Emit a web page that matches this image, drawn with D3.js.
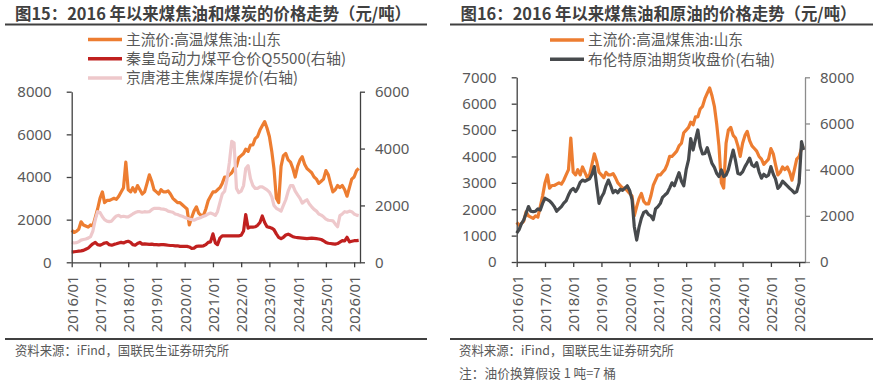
<!DOCTYPE html>
<html><head><meta charset="utf-8">
<script src="https://cdn.jsdelivr.net/npm/d3@7"></script>
<style>
html,body{margin:0;padding:0;background:#fff;}
svg{display:block;}
</style></head>
<body>
<svg id="c" width="873" height="381"></svg>
<script>
// ---- data (monthly, starting 2016-01) ----
const startYear = 2016, startMonth = 0;
const xTickLabels = ["2016/01","2017/01","2018/01","2019/01","2020/01","2021/01","2022/01","2023/01","2024/01","2025/01","2026/01"];
const leftTicksChart15 = [0,2000,4000,6000,8000];
const rightTicksChart15 = [0,2000,4000,6000];
const leftTicksChart16 = [0,1000,2000,3000,4000,5000,6000,7000];
const rightTicksChart16 = [0,2000,4000,6000,8000];

const seriesNames15 = ["主流价:高温煤焦油:山东","秦皇岛动力煤平仓价Q5500(右轴)","京唐港主焦煤库提价(右轴)"];
const seriesNames16 = ["主流价:高温煤焦油:山东","布伦特原油期货收盘价(右轴)"];

const cokeTar = [
 1500,1400,1450,1550,1900,1750,1700,1650,1750,1700,2100,2500,
 3000,3300,2800,2900,2900,2950,3000,2950,3100,3300,3500,4700,
 3400,3300,3500,3300,3600,3400,3200,3300,3700,4100,3800,3400,
 3300,3200,3400,3300,3300,3350,3200,3000,2900,2800,2800,2700,
 2600,2500,1750,2100,2400,2600,2300,2200,2200,2500,2900,3100,
 3300,3300,3400,3500,3700,4000,4000,4100,4200,4400,4500,4900,
 5000,5100,5300,5200,5500,5500,5800,5900,6200,6400,6600,6300,
 5900,5200,4400,3000,2800,4500,5000,5100,4800,4700,4400,4000,
 4500,4800,4950,4600,4400,4300,4200,4000,3900,3700,3800,3900,
 4300,4100,3700,3300,3400,3600,3500,3600,3400,3100,3500,3900,
 4000,4300,4400];

const thermalCoal = [
 370,370,380,390,400,420,460,500,580,650,700,620,
 600,640,680,690,620,600,630,650,680,700,680,720,
 740,700,620,600,660,700,640,650,640,630,640,620,
 620,610,620,620,610,600,590,590,580,580,560,560,
 560,560,540,490,500,560,570,570,580,620,700,720,
 1000,680,620,850,930,930,930,930,930,930,930,930,
 950,1100,1680,1200,1240,1240,1250,1300,1400,1630,1400,1250,
 1230,1200,1150,1000,880,830,880,960,990,950,900,880,
 870,860,850,840,830,840,850,840,830,820,800,760,
 700,670,660,650,640,660,710,760,750,880,720,740,
 760,760,770];

const cokingCoal = [
 700,680,690,720,780,800,820,850,900,1100,1500,1780,
 1750,1600,1500,1450,1430,1450,1550,1630,1650,1600,1620,1600,
 1600,1650,1700,1750,1780,1780,1760,1780,1770,1780,1850,1900,
 1900,1900,1880,1870,1850,1800,1780,1760,1700,1680,1640,1620,
 1580,1550,1520,1500,1480,1520,1550,1580,1620,1650,1700,1730,
 1700,1650,1780,2100,2400,2500,2900,3500,4250,4200,2600,2450,
 2500,2700,3300,3400,2950,2700,2600,2600,2650,2650,2600,2550,
 2470,2300,2000,1900,1850,1800,2000,2200,2500,2700,2700,2500,
 2370,2250,2080,2150,2200,2050,1950,1860,1800,1700,1660,1600,
 1520,1480,1470,1460,1350,1250,1640,1700,1780,1760,1800,1780,
 1700,1660,1640];

const brent = [
 1250,1400,1650,1820,2100,2400,2200,2180,2200,2300,2250,2540,
 2760,2700,2650,2540,2400,2200,2300,2400,2550,2650,2900,3100,
 3190,3050,3200,3450,3550,3500,3550,3600,3800,4130,3300,2540,
 2800,2990,3300,3550,3300,3000,3100,3000,3150,3100,3200,3300,
 3100,2700,1530,950,1500,1900,2150,2200,2050,2000,1830,2300,
 2400,2540,2800,2900,2990,3200,3430,3300,3600,3870,3500,3300,
 4000,4430,5350,4850,5300,5720,5000,4680,4700,4950,4600,4270,
 4100,3830,3700,3990,3700,3760,4000,4430,4850,4400,3830,3800,
 3900,4130,4300,4500,4200,4130,4300,3900,3630,3800,3700,3760,
 4130,3800,3600,3190,3300,3500,3400,3300,3190,3100,2990,3050,
 3430,5210,4850];

// ---- styling ----
const C_ORANGE = "#ED7D31", C_RED = "#C0201F", C_PINK = "#EEC8CB", C_GRAY = "#474A4D";
const TXT = "#595959", DARK = "#404040";
const CJK = "'Noto Sans CJK SC','Noto Sans',sans-serif";
const NUM = "'Noto Sans','Open Sans',sans-serif";

const svg = d3.select("#c");
const dateAt = i => new Date(startYear, startMonth + i, 1);
const xDomain = [new Date(2016,0,1), new Date(2026,2,18)];
const tickDates = xTickLabels.map(s => { const [y,m] = s.split("/"); return new Date(+y, +m-1, 1); });

function header(x0, x1, tx, title) {
  svg.append("text").attr("x", tx).attr("y", 19.5).text(title)
    .attr("textLength", 396).attr("lengthAdjust", "spacingAndGlyphs")
    .attr("font-family", CJK).attr("font-weight", "bold").attr("font-size", 16.5).attr("fill", DARK);
  svg.append("line").attr("x1", x0).attr("x2", x1).attr("y1", 24.5).attr("y2", 24.5)
    .attr("stroke", DARK).attr("stroke-width", 2);
  svg.append("line").attr("x1", x0).attr("x2", x1).attr("y1", 339).attr("y2", 339)
    .attr("stroke", DARK).attr("stroke-width", 2);
}

function legend(lx, ty, items) {
  items.forEach((it, i) => {
    const y = ty + i * 19.3;
    svg.append("line").attr("x1", lx).attr("x2", lx + 34).attr("y1", y).attr("y2", y)
      .attr("stroke", it.color).attr("stroke-width", 3.5);
    svg.append("text").attr("x", lx + 38).attr("y", y + 5.2).text(it.name)
      .attr("textLength", it.w).attr("lengthAdjust", "spacingAndGlyphs")
      .attr("font-family", CJK).attr("font-size", 15).attr("fill", TXT);
  });
}

function footer(x, y, str, w) {
  svg.append("text").attr("x", x).attr("y", y).text(str)
    .attr("textLength", w).attr("lengthAdjust", "spacingAndGlyphs")
    .attr("font-family", CJK).attr("font-size", 13).attr("fill", TXT);
}

function chart(o) {
  const x = d3.scaleTime().domain(xDomain).range([o.x0, o.x1]);
  const yL = d3.scaleLinear().domain([0, o.lMax]).range([o.y0, o.y1]);
  const yR = d3.scaleLinear().domain([0, o.rMax]).range([o.y0, o.y1]);
  const fmt = d3.format("d");

  const styleAxis = (g, color) => {
    g.selectAll("path").attr("stroke", color).attr("stroke-width", 1.3);
    g.selectAll("line").attr("stroke", color).attr("stroke-width", 1.3);
    g.selectAll("text").attr("fill", TXT).attr("font-family", NUM).attr("font-size", 15);
  };

  // lines
  o.series.forEach(s => {
    const yS = s.right ? yR : yL;
    svg.append("path").datum(s.values)
      .attr("fill", "none").attr("stroke", s.color).attr("stroke-width", 3.2)
      .attr("stroke-linejoin", "round")
      .attr("d", d3.line().x((d, i) => x(dateAt(i))).y(d => yS(d)));
  });

  const gl = svg.append("g").attr("transform", `translate(${o.x0},0)`)
    .call(d3.axisLeft(yL).tickValues(o.lTicks).tickFormat(fmt).tickSize(5).tickSizeOuter(0).tickPadding(15));
  styleAxis(gl, DARK);
  const gr = svg.append("g").attr("transform", `translate(${o.x1},0)`)
    .call(d3.axisRight(yR).tickValues(o.rTicks).tickFormat(fmt).tickSize(5).tickSizeOuter(0).tickPadding(10));
  styleAxis(gr, o.rAxisColor);
  const gx = svg.append("g").attr("transform", `translate(0,${o.y0})`)
    .call(d3.axisBottom(x).tickValues(tickDates).tickSize(5).tickSizeOuter(0)
      .tickFormat((d, i) => xTickLabels[i]));
  styleAxis(gx, DARK);
  gx.selectAll("text").attr("transform", "rotate(-90)").attr("x", -13).attr("y", 0)
    .attr("dy", "0.36em").style("text-anchor", "end");
}

// ---- chart 15 ----
header(5, 427, 15, "图15：2016 年以来煤焦油和煤炭的价格走势（元/吨）");
legend(88, 39.5, [
  {name: seriesNames15[0], color: C_ORANGE, w: 155},
  {name: seriesNames15[1], color: C_RED, w: 220},
  {name: seriesNames15[2], color: C_PINK, w: 172}]);
chart({x0: 71.7, x1: 360, y0: 262.3, y1: 91.7, lMax: 8000, rMax: 6000,
  lTicks: leftTicksChart15, rTicks: rightTicksChart15, rAxisColor: DARK,
  series: [
    {values: cokeTar, color: C_ORANGE, right: false},
    {values: thermalCoal, color: C_RED, right: true},
    {values: cokingCoal, color: C_PINK, right: true}]});
footer(15, 354.5, "资料来源：iFind，国联民生证券研究所", 214);

// ---- chart 16 ----
header(450, 873, 460.5, "图16：2016 年以来煤焦油和原油的价格走势（元/吨）");
legend(550, 40, [
  {name: seriesNames16[0], color: C_ORANGE, w: 155},
  {name: seriesNames16[1], color: C_GRAY, w: 187}]);
chart({x0: 516.7, x1: 805, y0: 262, y1: 77.3, lMax: 7000, rMax: 8000,
  lTicks: leftTicksChart16, rTicks: rightTicksChart16, rAxisColor: "#8C8C8C",
  series: [
    {values: cokeTar, color: C_ORANGE, right: false},
    {values: brent, color: C_GRAY, right: true}]});
footer(459, 354.5, "资料来源：iFind，国联民生证券研究所", 215);
footer(459, 377.5, "注：油价换算假设 1 吨=7 桶", 157);
</script>
</body></html>
